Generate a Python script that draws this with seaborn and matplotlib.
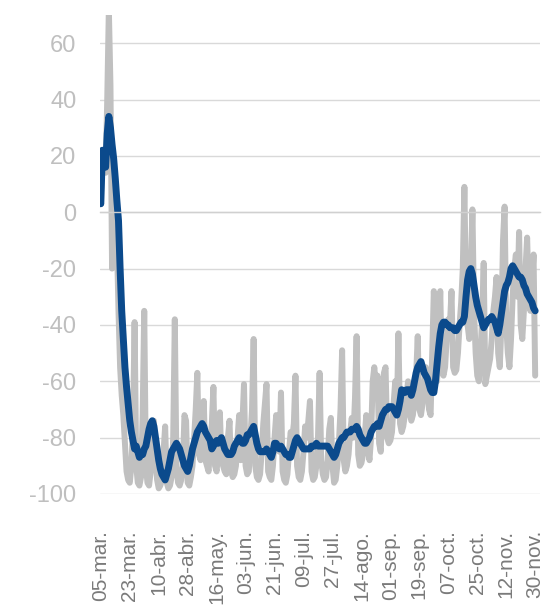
import matplotlib
matplotlib.use("Agg")
import numpy as np
import pandas as pd
import seaborn as sns
import matplotlib.pyplot as plt

# daily dates, 05-mar to 30-nov (2020)
dates = pd.date_range("2020-03-05", "2020-11-30", freq="D")

tick_labels = ["05-mar.", "23-mar.", "10-abr.", "28-abr.", "16-may.", "03-jun.",
               "21-jun.", "09-jul.", "27-jul.", "14-ago.", "01-sep.", "19-sep.",
               "07-oct.", "25-oct.", "12-nov.", "30-nov."]

# grey series: daily values (10 per row)
daily = [
    5, 22, 18, 14, 40, 72, 45, -20, 12, 5,
    -10, -35, -55, -65, -72, -82, -92, -95, -96, -90,
    -76, -39, -90, -96, -97, -94, -72, -35, -90, -96,
    -97, -92, -76, -74, -88, -95, -98, -97, -95, -85,
    -76, -96, -98, -97, -94, -80, -38, -90, -96, -97,
    -95, -90, -72, -74, -96, -97, -94, -90, -80, -70,
    -57, -86, -88, -85, -67, -88, -90, -92, -82, -75,
    -62, -90, -92, -84, -71, -88, -90, -92, -93, -80,
    -74, -92, -94, -93, -90, -80, -72, -88, -75, -61,
    -90, -93, -92, -80, -70, -45, -90, -94, -95, -93,
    -85, -75, -68, -61, -92, -94, -95, -90, -80, -72,
    -75, -85, -64, -92, -95, -96, -93, -85, -78, -80,
    -75, -58, -90, -94, -95, -92, -85, -76, -80, -74,
    -67, -92, -95, -94, -90, -80, -57, -88, -93, -95,
    -94, -88, -77, -73, -90, -96, -95, -90, -82, -70,
    -49, -88, -92, -90, -86, -78, -73, -80, -66, -44,
    -86, -90, -89, -86, -80, -72, -84, -88, -80, -60,
    -55, -62, -58, -82, -85, -70, -57, -55, -80, -82,
    -81, -78, -68, -60, -72, -43, -75, -78, -76, -72,
    -65, -60, -71, -74, -72, -66, -58, -44, -70, -72,
    -68, -62, -55, -60, -70, -72, -50, -28, -40, -60,
    -45, -28, -56, -58, -55, -45, -38, -40, -28, -55,
    -57, -56, -50, -40, -32, -20, 9, -30, -40, -45,
    -20, 1, -35, -50, -58, -60, -50, -38, -18, -61,
    -58, -55, -52, -45, -35, -30, -23, -50, -55, -40,
    -10, 2, -40, -50, -55, -45, -30, -20, -15, -30,
    -7, -40, -45, -35, -20, -9, -30, -35, -25, -15,
    -58,
]

# blue series: smoothed values (10 per row)
smoothed = [
    3, 22, 20, 16, 28, 34, 30, 24, 19, 12,
    4, -3, -20, -35, -45, -55, -62, -68, -74, -78,
    -81, -84, -83, -85, -87, -86, -86, -84, -83, -80,
    -77, -75, -74, -76, -80, -84, -88, -91, -93, -94,
    -95, -93, -91, -88, -85, -84, -83, -82, -83, -84,
    -86, -88, -90, -91, -92, -90, -87, -84, -82, -80,
    -78, -77, -76, -75, -76, -78, -79, -80, -81, -84,
    -83, -82, -81, -82, -81, -80, -82, -84, -85, -86,
    -86, -86, -85, -83, -82, -81, -80, -81, -82, -82,
    -81, -79, -79, -78, -77, -76, -79, -82, -84, -85,
    -85, -85, -85, -84, -85, -86, -87, -85, -82, -82,
    -83, -84, -83, -84, -85, -86, -86, -87, -87, -85,
    -83, -81, -80, -81, -82, -83, -84, -84, -84, -84,
    -84, -83, -83, -83, -82, -83, -83, -83, -83, -83,
    -83, -83, -84, -85, -86, -87, -86, -84, -82, -81,
    -80, -80, -79, -78, -78, -78, -77, -77, -77, -76,
    -77, -79, -80, -81, -82, -82, -81, -80, -78, -77,
    -76, -76, -75, -76, -74, -72, -71, -70, -70, -69,
    -69, -69, -70, -71, -72, -70, -67, -63, -64, -64,
    -63, -63, -63, -65, -63, -60, -57, -55, -54, -53,
    -55, -57, -58, -59, -61, -63, -64, -64, -60, -54,
    -48, -43, -40, -39, -39, -40, -40, -41, -41, -41,
    -42, -42, -41, -40, -39, -39, -37, -30, -24, -21,
    -20, -22, -26, -30, -33, -35, -37, -39, -41, -40,
    -39, -38, -38, -37, -38, -39, -41, -43, -40, -36,
    -32, -28, -26, -25, -23, -20, -19, -20, -21, -22,
    -23, -23, -24, -26, -27, -29, -30, -31, -32, -34,
    -35,
]

df = pd.DataFrame({"fecha": dates, "diario": daily, "media": smoothed})
tick_dates = dates[::18]

sns.set_style("white")
plt.rcParams["font.family"] = ["Liberation Sans", "DejaVu Sans"]
plt.rcParams["axes.unicode_minus"] = False

fig = plt.figure(figsize=(5.47, 6.05), dpi=100)
ax = fig.add_axes([100 / 547, 1 - 494 / 605, 440 / 547, 479 / 605])

sns.lineplot(data=df, x="fecha", y="diario", color="#c0c0c0", lw=4.3, ax=ax)
sns.lineplot(data=df, x="fecha", y="media", color="#0b4a8c", lw=5, ax=ax)

ax.set(xlabel="", ylabel="")
ax.set_xlim(dates[0] - pd.Timedelta(hours=12), dates[-1] + pd.Timedelta(days=3))
ax.set_ylim(-100, 70)
ax.set_yticks(range(-100, 61, 20))
ax.grid(axis="y", color="#d9d9d9", lw=1)
ax.set_axisbelow(True)

for side in ["top", "right", "left"]:
    ax.spines[side].set_visible(False)
# horizontal axis crosses at 0, labels sit at the bottom
ax.spines["bottom"].set_position(("data", 0))
ax.spines["bottom"].set_color("#d0d0d0")
ax.spines["bottom"].set_linewidth(1)
ax.set_xticks(tick_dates)
ax.tick_params(axis="x", length=4, width=1, color="#c0c0c0", direction="out",
               labelbottom=False)
ax.tick_params(axis="y", length=0, pad=17, labelsize=17, labelcolor="#bfbfbf")

sec = ax.secondary_xaxis("bottom")
sec.set_xticks(tick_dates, labels=tick_labels)
sec.tick_params(length=0, pad=26, rotation=90, labelsize=15, labelcolor="#7a7a7a")
sec.spines["bottom"].set_visible(False)

fig.savefig("out.png", dpi=100)
